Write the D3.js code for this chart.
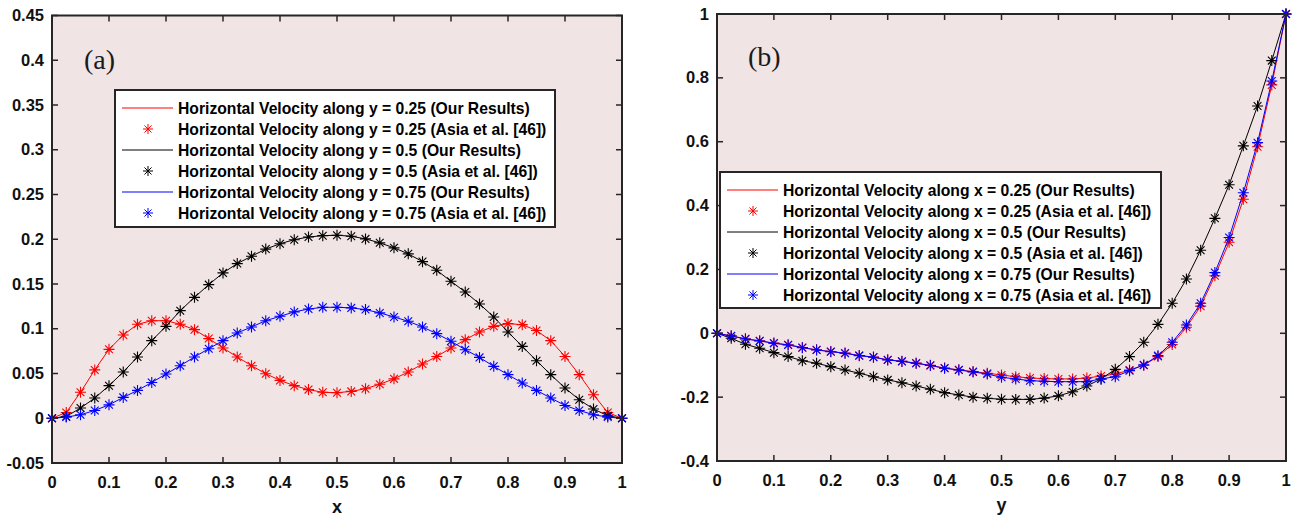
<!DOCTYPE html>
<html>
<head>
<meta charset="utf-8">
<script src="https://cdn.jsdelivr.net/npm/d3@7"></script>
<style>
    body { margin: 0; background: #fff; }
    svg { display: block; font-family: 'Liberation Sans', Arial, sans-serif; }
</style>
</head>
<body>
<svg></svg>
<script>
const width = 1301;
const height = 518;

// grid positions shared by every profile
const gridPos = [0, 0.025, 0.05, 0.075, 0.1, 0.125, 0.15, 0.175, 0.2, 0.225, 0.25, 0.275, 0.3, 0.325, 0.35, 0.375, 0.4,
    0.425, 0.45, 0.475, 0.5, 0.525, 0.55, 0.575, 0.6, 0.625, 0.65, 0.675, 0.7, 0.725, 0.75, 0.775, 0.8, 0.825, 0.85,
    0.875, 0.9, 0.925, 0.95, 0.975, 1];

// panel (a): horizontal velocity along y = const
const uY025 = [0, 0.0065, 0.029, 0.054, 0.077, 0.093, 0.105, 0.109, 0.109, 0.105, 0.099, 0.089, 0.0785, 0.0685, 0.0587,
    0.0498, 0.0423, 0.0364, 0.032, 0.029, 0.0285, 0.030, 0.033, 0.038, 0.044, 0.0517, 0.0606, 0.069, 0.0785, 0.0878,
    0.0964, 0.1027, 0.1057, 0.1046, 0.098, 0.0867, 0.069, 0.0487, 0.0263, 0.0065, 0];
const uY05 = [0, 0.002, 0.0114, 0.0226, 0.0364, 0.0517, 0.0685, 0.0867, 0.1027, 0.1202, 0.1351, 0.1493, 0.1624, 0.1728,
    0.181, 0.189, 0.195, 0.1995, 0.2025, 0.204, 0.2045, 0.2034, 0.2004, 0.196, 0.1904, 0.1837, 0.175, 0.1653, 0.153,
    0.141, 0.1277, 0.1132, 0.0964, 0.0803, 0.0643, 0.0487, 0.0338, 0.0207, 0.0103, 0.0028, 0];
const uY075 = [0, 0.0013, 0.0039, 0.0087, 0.015, 0.0233, 0.0311, 0.04, 0.0494, 0.0587, 0.0685, 0.0777, 0.0867, 0.0953,
    0.102, 0.109, 0.1139, 0.1188, 0.1221, 0.1239, 0.124, 0.1233, 0.1214, 0.1177, 0.1132, 0.1083, 0.102, 0.0945, 0.086,
    0.0766, 0.068, 0.058, 0.0487, 0.0394, 0.0311, 0.0226, 0.0143, 0.0087, 0.0039, 0.0013, 0];

// panel (b): horizontal velocity along x = const
const uX025 = [0, -0.008, -0.0172, -0.0235, -0.0308, -0.036, -0.0445, -0.0518, -0.057, -0.062, -0.0695, -0.0745, -0.083,
    -0.0875, -0.0935, -0.1005, -0.109, -0.1145, -0.12, -0.125, -0.1306, -0.136, -0.14, -0.142, -0.143, -0.143, -0.14,
    -0.134, -0.128, -0.115, -0.1, -0.073, -0.035, 0.019, 0.085, 0.18, 0.285, 0.42, 0.584, 0.778, 1];
const uX05 = [0, -0.0157, -0.0345, -0.047, -0.0607, -0.073, -0.0858, -0.094, -0.1045, -0.115, -0.125, -0.136, -0.146,
    -0.1547, -0.165, -0.1754, -0.186, -0.193, -0.2, -0.2036, -0.2067, -0.207, -0.207, -0.203, -0.196, -0.183, -0.165,
    -0.143, -0.113, -0.073, -0.028, 0.028, 0.094, 0.17, 0.26, 0.36, 0.465, 0.587, 0.712, 0.854, 1];
const uX075 = [0, -0.0085, -0.0178, -0.024, -0.0313, -0.0366, -0.045, -0.0523, -0.0576, -0.0626, -0.070, -0.075, -0.0836,
    -0.088, -0.094, -0.101, -0.1096, -0.115, -0.121, -0.1275, -0.1378, -0.143, -0.1484, -0.1503, -0.1515, -0.1515,
    -0.1515, -0.143, -0.136, -0.117, -0.099, -0.070, -0.028, 0.026, 0.094, 0.19, 0.30, 0.44, 0.597, 0.79, 1];

const xTicks = [0, 0.1, 0.2, 0.3, 0.4, 0.5, 0.6, 0.7, 0.8, 0.9, 1];
const xTickLabels = ['0', '0.1', '0.2', '0.3', '0.4', '0.5', '0.6', '0.7', '0.8', '0.9', '1'];
const yTicksA = [-0.05, 0, 0.05, 0.1, 0.15, 0.2, 0.25, 0.3, 0.35, 0.4, 0.45];
const yTickLabelsA = ['-0.05', '0', '0.05', '0.1', '0.15', '0.2', '0.25', '0.3', '0.35', '0.4', '0.45'];
const yTicksB = [-0.4, -0.2, 0, 0.2, 0.4, 0.6, 0.8, 1];
const yTickLabelsB = ['-0.4', '-0.2', '0', '0.2', '0.4', '0.6', '0.8', '1'];

const seriesColors = ['#ff0000', '#000000', '#0000ff'];
const legendA = [
    'Horizontal Velocity along y = 0.25 (Our Results)',
    'Horizontal Velocity along y = 0.25 (Asia et al. [46])',
    'Horizontal Velocity along y = 0.5 (Our Results)',
    'Horizontal Velocity along y = 0.5 (Asia et al. [46])',
    'Horizontal Velocity along y = 0.75 (Our Results)',
    'Horizontal Velocity along y = 0.75 (Asia et al. [46])'
];
const legendB = [
    'Horizontal Velocity along x = 0.25 (Our Results)',
    'Horizontal Velocity along x = 0.25 (Asia et al. [46])',
    'Horizontal Velocity along x = 0.5 (Our Results)',
    'Horizontal Velocity along x = 0.5 (Asia et al. [46])',
    'Horizontal Velocity along x = 0.75 (Our Results)',
    'Horizontal Velocity along x = 0.75 (Asia et al. [46])'
];

const axisColor = '#262626';
const bgColor = '#f0e4e4';

const svg = d3.select('svg')
    .attr('width', width)
    .attr('height', height);

const star = r => {
    const d = r * 0.7071;
    return `M${-r},0L${r},0M0,${-r}L0,${r}M${-d},${-d}L${d},${d}M${-d},${d}L${d},${-d}`;
};

const drawPanel = cfg => {
    const x = d3.scaleLinear().domain([0, 1]).range([cfg.left, cfg.right]);
    const y = d3.scaleLinear().domain(cfg.yDomain).range([cfg.bottom, cfg.top]);
    const g = svg.append('g');

    g.append('rect')
        .attr('x', cfg.left).attr('y', cfg.top)
        .attr('width', cfg.right - cfg.left).attr('height', cfg.bottom - cfg.top)
        .attr('fill', bgColor);

    const line = d3.line().x((d, i) => x(gridPos[i])).y(d => y(d));

    cfg.series.forEach((s, k) => {
        g.append('path')
            .datum(s)
            .attr('d', line)
            .attr('fill', 'none')
            .attr('stroke', seriesColors[k])
            .attr('stroke-width', 1);
        g.selectAll(null)
            .data(s).enter()
            .append('path')
            .attr('d', star(5.5))
            .attr('transform', (d, i) => `translate(${x(gridPos[i])},${y(d)})`)
            .attr('fill', 'none')
            .attr('stroke', seriesColors[k])
            .attr('stroke-width', 1.1);
    });

    // ticks, drawn inside on all four sides (box on)
    const tl = 6;
    const axes = g.append('g').attr('stroke', axisColor).attr('stroke-width', 1.5);
    xTicks.forEach(t => {
        axes.append('line').attr('x1', x(t)).attr('x2', x(t)).attr('y1', cfg.bottom).attr('y2', cfg.bottom - tl);
        axes.append('line').attr('x1', x(t)).attr('x2', x(t)).attr('y1', cfg.top).attr('y2', cfg.top + tl);
    });
    cfg.yTicks.forEach(t => {
        axes.append('line').attr('x1', cfg.left).attr('x2', cfg.left + tl).attr('y1', y(t)).attr('y2', y(t));
        axes.append('line').attr('x1', cfg.right).attr('x2', cfg.right - tl).attr('y1', y(t)).attr('y2', y(t));
    });
    g.append('rect')
        .attr('x', cfg.left).attr('y', cfg.top)
        .attr('width', cfg.right - cfg.left).attr('height', cfg.bottom - cfg.top)
        .attr('fill', 'none')
        .attr('stroke', axisColor)
        .attr('stroke-width', 2);

    g.selectAll(null)
        .data(xTicks).enter()
        .append('text')
        .attr('x', d => x(d))
        .attr('y', cfg.bottom + 25)
        .attr('text-anchor', 'middle')
        .attr('font-size', 16.5)
        .attr('font-weight', 'bold')
        .attr('fill', '#111')
        .text((d, i) => xTickLabels[i]);

    g.selectAll(null)
        .data(cfg.yTicks).enter()
        .append('text')
        .attr('x', cfg.left - 8)
        .attr('y', d => y(d) + 5.5)
        .attr('text-anchor', 'end')
        .attr('font-size', 16.5)
        .attr('font-weight', 'bold')
        .attr('fill', '#111')
        .text((d, i) => cfg.yTickLabels[i]);

    g.append('text')
        .attr('x', (cfg.left + cfg.right) / 2)
        .attr('y', cfg.bottom + 50)
        .attr('text-anchor', 'middle')
        .attr('font-size', 18)
        .attr('font-weight', 'bold')
        .attr('fill', '#111')
        .text(cfg.xLabel);

    g.append('text')
        .attr('x', cfg.tag.x)
        .attr('y', cfg.tag.y)
        .attr('font-family', "'Liberation Serif', 'Times New Roman', serif")
        .attr('font-size', 28)
        .attr('fill', '#1a1a1a')
        .text(cfg.tag.text);

    // legend
    const lg = cfg.legend;
    g.append('rect')
        .attr('x', lg.x).attr('y', lg.y)
        .attr('width', lg.w).attr('height', lg.h)
        .attr('fill', '#fff')
        .attr('stroke', axisColor)
        .attr('stroke-width', 2);
    lg.labels.forEach((label, i) => {
        const cy = lg.y + 18 + i * 21;
        const col = seriesColors[Math.floor(i / 2)];
        if (i % 2 === 0) {
            g.append('line')
                .attr('x1', lg.x + 7).attr('x2', lg.x + 58)
                .attr('y1', cy).attr('y2', cy)
                .attr('stroke', col).attr('stroke-width', 1);
        } else {
            g.append('path')
                .attr('d', star(5))
                .attr('transform', `translate(${lg.x + 33},${cy})`)
                .attr('fill', 'none')
                .attr('stroke', col)
                .attr('stroke-width', 1);
        }
        g.append('text')
            .attr('x', lg.x + 63)
            .attr('y', cy + 5.5)
            .attr('font-size', 15.7)
            .attr('font-weight', 'bold')
            .attr('fill', '#000')
            .text(label);
    });
};

drawPanel({
    left: 52, right: 622, top: 15.5, bottom: 463,
    yDomain: [-0.05, 0.45],
    yTicks: yTicksA, yTickLabels: yTickLabelsA,
    series: [uY025, uY05, uY075],
    xLabel: 'x',
    tag: { text: '(a)', x: 84, y: 69 },
    legend: { x: 115, y: 90, w: 440, h: 137, labels: legendA }
});

drawPanel({
    left: 717, right: 1286, top: 14, bottom: 461,
    yDomain: [-0.4, 1],
    yTicks: yTicksB, yTickLabels: yTickLabelsB,
    series: [uX025, uX05, uX075],
    xLabel: 'y',
    tag: { text: '(b)', x: 748, y: 66 },
    legend: { x: 720, y: 172, w: 441, h: 136, labels: legendB }
});
</script>
</body>
</html>
